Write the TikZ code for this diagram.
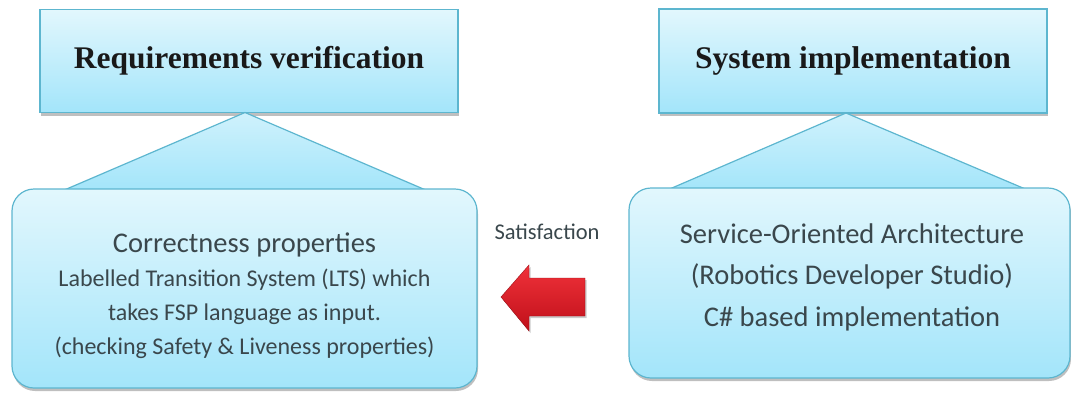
\documentclass[tikz,border=0pt]{standalone}
\usepackage{fontspec}
\setmainfont{Carlito}
\newfontfamily\titlefont{Liberation Serif}
\usetikzlibrary{shadows}
\definecolor{boxtop}{HTML}{E2F7FD}
\definecolor{boxbot}{HTML}{A3E5FA}
\definecolor{boxline}{HTML}{5DB6CF}
\definecolor{txt}{HTML}{3A474C}
\definecolor{arrowred}{HTML}{F0323A}
\definecolor{arrowdark}{HTML}{C0101A}
\newcommand{\cpbigfont}{\fontsize{28.5}{34}\selectfont}
\newcommand{\cpsmallfont}{\fontsize{24}{34}\selectfont}
\newcommand{\soafont}{\fontsize{28.5}{41.5}\selectfont}
\tikzset{
  titlebox/.style={draw=boxline, line width=1.2pt, top color=boxtop, bottom color=boxbot,
     drop shadow={shadow xshift=1pt, shadow yshift=-3pt, fill=gray, opacity=0.5},
     font=\titlefont\bfseries\fontsize{31.5}{34}\selectfont, text=black!90},
  detailbox/.style={draw=boxline, line width=1.2pt, rounded corners=22pt, top color=boxtop, bottom color=boxbot,
     drop shadow={shadow xshift=1pt, shadow yshift=-3pt, fill=gray, opacity=0.5}},
  detailtext/.style={align=center, text=txt, inner sep=0pt},
  tri/.style={draw=boxline, line width=1.2pt, top color=boxtop!70!boxbot, bottom color=boxbot},
  redarrow/.style={top color=arrowred, bottom color=arrowdark, draw=arrowdark!80!black, line width=0.4pt,
     drop shadow={shadow xshift=1.5pt, shadow yshift=-2pt, fill=gray, opacity=0.4}},
}
\begin{document}
\begin{tikzpicture}[x=1pt,y=-1pt]
\useasboundingbox (0,0) rectangle (1071,392);
% top boxes
\node[titlebox, minimum width=418pt, minimum height=103pt] (rv) at (249,61) {Requirements verification};
\node[titlebox, minimum width=388pt, minimum height=104pt] (si) at (853,61) {System implementation};
% base coordinates of triangles
\coordinate (la) at (62,191);
\coordinate (lb) at (428,191);
\coordinate (ra) at (665,191);
\coordinate (rb) at (1030,191);
\coordinate (lapex) at (245,112.5);
\coordinate (rapex) at (846,113);
\path[tri] (lapex) -- (la) -- (lb) -- cycle;
\path[tri] (rapex) -- (ra) -- (rb) -- cycle;
% bottom boxes
\node[detailbox, minimum width=465pt, minimum height=199pt] (cp) at (244.5,288.5) {};
\node[detailtext, font=\cpsmallfont] (cpt) at (244.5,296)
  {\cpbigfont Correctness properties\\
   \cpsmallfont Labelled Transition System (LTS) which\\
   takes FSP language as input.\\
   (checking Safety \& Liveness properties)};
\node[detailbox, minimum width=441pt, minimum height=190pt] (soa) at (849.5,283) {};
\node[detailtext, font=\soafont] (soat) at (852,277)
  {Service-Oriented Architecture\\
   (Robotics Developer Studio)\\
   C\# based implementation};
% arrow and label
\node[font=\fontsize{22.5}{24}\selectfont, text=txt] (sat) at (547,232) {Satisfaction};
\coordinate (tip) at (501,297);
\path[redarrow] (tip) -- (529,265) -- (529,278) -- (585,278) -- (585,316) -- (529,316) -- (529,331) -- cycle;
\end{tikzpicture}
\end{document}
